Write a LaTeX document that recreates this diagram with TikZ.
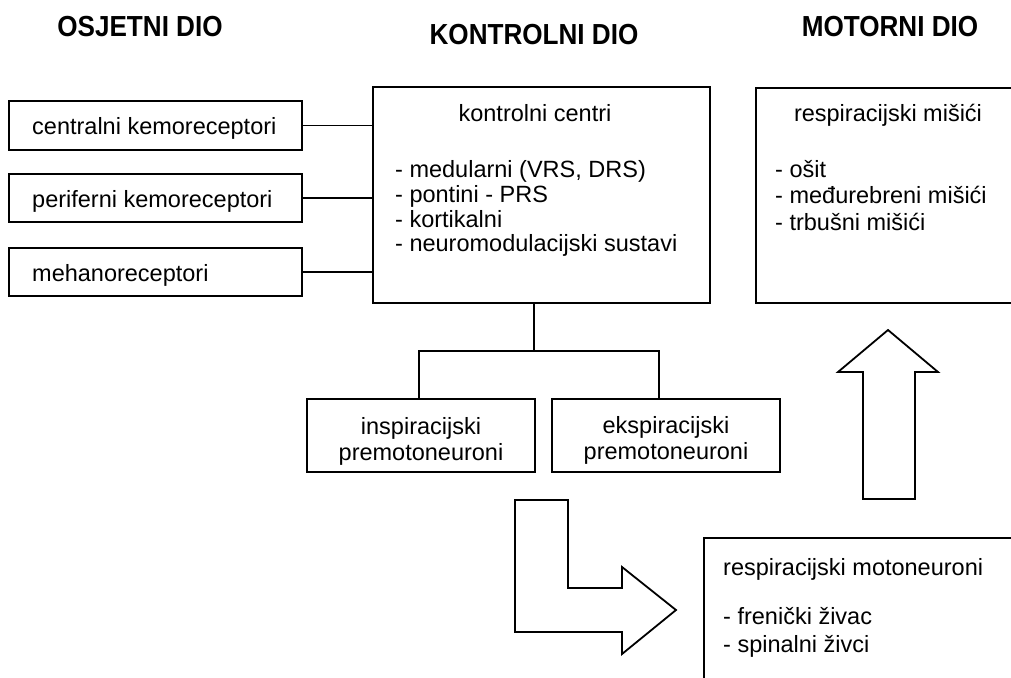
\documentclass[tikz,border=0pt]{standalone}
\usepackage{fontspec}
\setmainfont{Liberation Sans}
\begin{document}
\begin{tikzpicture}[x=1pt,y=-1pt,
  box/.style={draw,line width=1.8pt,rectangle,inner sep=0pt},
  txt/.style={inner sep=0pt,font=\fontsize{23.5}{26}\selectfont},
  hdr/.style={inner sep=0pt,font=\fontsize{29}{32}\selectfont\bfseries},
  conn/.style={line width=1.8pt},
  bigarrow/.style={draw,line width=1.8pt,line join=miter}]
\useasboundingbox (0,0) rectangle (1011,677);
\clip (0,0) rectangle (1011,677);
% headers
\node[hdr,anchor=base] (h1) at (140,37) {\scalebox{0.9}[1]{OSJETNI DIO}};
\node[hdr,anchor=base] (h2) at (534,45) {\scalebox{0.9}[1]{KONTROLNI DIO}};
\node[hdr,anchor=base] (h3) at (890,37) {\scalebox{0.9}[1]{MOTORNI DIO}};
% sensory boxes
\node[box,minimum width=293pt,minimum height=49pt] (c1) at (155.5,125.5) {};
\node[box,minimum width=293pt,minimum height=48pt] (c2) at (155.5,198) {};
\node[box,minimum width=293pt,minimum height=48pt] (c3) at (155.5,272) {};
\node[txt,anchor=base west] (t1) at (32,134) {centralni kemoreceptori};
\node[txt,anchor=base west] (t2) at (32,207) {periferni kemoreceptori};
\node[txt,anchor=base west] (t3) at (32,281) {mehanoreceptori};
% control box
\node[box,minimum width=337pt,minimum height=216pt] (ctrl) at (541.5,195) {};
\node[txt,anchor=base] (ctitle) at (535,121) {kontrolni centri};
\node[txt,anchor=base west] (cl1) at (395,177) {- medularni (VRS, DRS)};
\node[txt,anchor=base west] (cl2) at (395,202) {- pontini - PRS};
\node[txt,anchor=base west] (cl3) at (395,227) {- kortikalni};
\node[txt,anchor=base west] (cl4) at (395,251) {- neuromodulacijski sustavi};
\draw[conn] (c1.east) -- (c1.east -| ctrl.west);
\draw[conn] (c2.east) -- (c2.east -| ctrl.west);
\draw[conn] (c3.east) -- (c3.east -| ctrl.west);
% premotoneurons
\node[box,minimum width=228pt,minimum height=73pt] (insp) at (421,435.5) {};
\node[box,minimum width=228pt,minimum height=73pt] (eksp) at (666,435.5) {};
\node[txt,anchor=base] (tinsp1) at (421,434) {inspiracijski};
\node[txt,anchor=base] (tinsp2) at (421,460) {premotoneuroni};
\node[txt,anchor=base] (teksp1) at (666,433) {ekspiracijski};
\node[txt,anchor=base] (teksp2) at (666,459) {premotoneuroni};
\coordinate (split) at (534,351);
\draw[conn] (ctrl.south -| split) -- (split);
\draw[conn,line join=miter] (419,351 |- insp.north) |- (split) -| (659,351 |- eksp.north);
% muscles box
\node[box,minimum width=264pt,minimum height=215pt] (musc) at (888,195.5) {};
\node[txt,anchor=base] (mtitle) at (888,121) {respiracijski mišići};
\node[txt,anchor=base west] (ml1) at (775,177) {- ošit};
\node[txt,anchor=base west] (ml2) at (775,203) {- međurebreni mišići};
\node[txt,anchor=base west] (ml3) at (775,230) {- trbušni mišići};
% motoneurons box
\node[box,minimum width=316pt,minimum height=160pt] (moto) at (862,618) {};
\node[txt,anchor=base west] (motitle) at (723,575) {respiracijski motoneuroni};
\node[txt,anchor=base west] (mo1) at (723,624) {- frenički živac};
\node[txt,anchor=base west] (mo2) at (723,652) {- spinalni živci};
% big arrows
\draw[bigarrow] (515,500) -- (568,500) -- (568,588) -- (622,588) -- (622,567) -- (676,610) -- (622,654) -- (622,632) -- (515,632) -- cycle;
\draw[bigarrow] (888,330) -- (938,372) -- (915,372) -- (915,499) -- (863,499) -- (863,372) -- (838,372) -- cycle;
\end{tikzpicture}
\end{document}
